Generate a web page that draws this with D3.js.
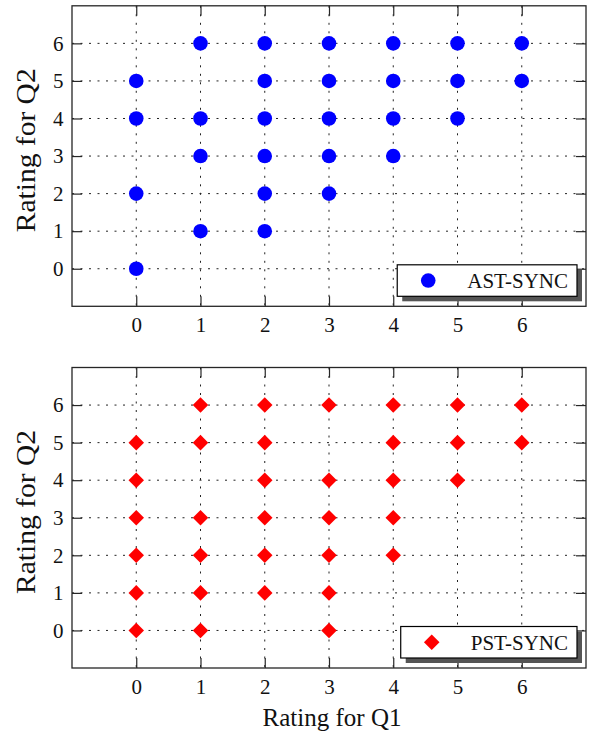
<!DOCTYPE html>
<html>
<head>
<meta charset="utf-8">
<script src="https://cdn.jsdelivr.net/npm/d3@7"></script>
<style>
  body { margin: 0; background: #fff; }
  svg { display: block; font-family: "Liberation Serif", "Times New Roman", serif; }
</style>
</head>
<body>
<div class="chartfield"></div>
<script>
var width = 589;
var height = 731;

// rating ticks on both axes
var ratingTicks = [0, 1, 2, 3, 4, 5, 6];

// AST-SYNC answers (Q1 rating, Q2 rating)
var astQ1 = [0, 0, 0, 0, 1, 1, 1, 1, 2, 2, 2, 2, 2, 2, 3, 3, 3, 3, 3, 4, 4, 4, 4, 5, 5, 5, 6, 6];
var astQ2 = [5, 4, 2, 0, 6, 4, 3, 1, 6, 5, 4, 3, 2, 1, 6, 5, 4, 3, 2, 6, 5, 4, 3, 6, 5, 4, 6, 5];

// PST-SYNC answers
var pstQ1 = [0, 0, 0, 0, 0, 0, 1, 1, 1, 1, 1, 1, 2, 2, 2, 2, 2, 2, 3, 3, 3, 3, 3, 3, 4, 4, 4, 4, 4, 5, 5, 5, 6, 6];
var pstQ2 = [5, 4, 3, 2, 1, 0, 6, 5, 3, 2, 1, 0, 6, 5, 4, 3, 2, 1, 6, 4, 3, 2, 1, 0, 6, 5, 4, 3, 2, 6, 5, 4, 6, 5];

var svg = d3.select(".chartfield")
	.append("svg")
	.attr("width", width)
	.attr("height", height);

var left = 72, right = 586;
var x = d3.scaleLinear().domain([-1, 7]).range([left, right]);

function panel(top, q1, q2, name, shape, colour, showXLabel) {
	var bottom = top + 300.5;
	var y = d3.scaleLinear().domain([-1, 7]).range([bottom, top]);
	var g = svg.append("g");

	// dotted grid
	g.selectAll("line.vgrid").data(ratingTicks).enter().append("line")
		.attr("class", "vgrid")
		.attr("x1", function(d) { return x(d); })
		.attr("x2", function(d) { return x(d); })
		.attr("y1", top).attr("y2", bottom)
		.attr("stroke", "#222").attr("stroke-width", 1)
		.attr("stroke-dasharray", "2,6.5");
	g.selectAll("line.hgrid").data(ratingTicks).enter().append("line")
		.attr("class", "hgrid")
		.attr("y1", function(d) { return y(d); })
		.attr("y2", function(d) { return y(d); })
		.attr("x1", left).attr("x2", right)
		.attr("stroke", "#222").attr("stroke-width", 1)
		.attr("stroke-dasharray", "2,6.5");

	// axes, ticks pointing inward
	var ax = [
		[d3.axisBottom(x), "translate(0," + bottom + ")", true],
		[d3.axisTop(x), "translate(0," + top + ")", false],
		[d3.axisLeft(y), "translate(" + left + ",0)", true],
		[d3.axisRight(y), "translate(" + right + ",0)", false]
	];
	ax.forEach(function(a) {
		var axis = a[0].tickValues(ratingTicks).tickSize(-10);
		if (a[0] === ax[0][0] || a[0] === ax[1][0]) axis.tickPadding(11); else axis.tickPadding(8.5);
		if (!a[2]) axis.tickFormat("");
		var ag = g.append("g").attr("transform", a[1]).call(axis);
		ag.select(".domain").remove();
		ag.selectAll(".tick line").attr("stroke", "#262626").attr("stroke-width", 1.2);
		ag.selectAll(".tick text")
			.attr("font-family", "Liberation Serif, serif")
			.attr("font-size", 21)
			.attr("fill", "#111");
	});

	g.append("rect")
		.attr("x", left).attr("y", top)
		.attr("width", right - left).attr("height", bottom - top)
		.attr("fill", "none").attr("stroke", "#262626").attr("stroke-width", 1.3);

	// markers
	var pts = q1.map(function(v, i) { return { q1: v, q2: q2[i] }; });
	var sym = d3.symbol().type(shape === "circle" ? d3.symbolCircle : d3.symbolSquare)
		.size(shape === "circle" ? Math.PI * 7.3 * 7.3 : 11 * 11);
	g.selectAll("path.pt").data(pts).enter().append("path")
		.attr("class", "pt")
		.attr("d", sym)
		.attr("transform", function(d) {
			return "translate(" + x(d.q1) + "," + y(d.q2) + ")" + (shape === "circle" ? "" : " rotate(45)");
		})
		.attr("fill", colour);

	// legend with drop shadow
	var lg = g.append("g");
	var txt = lg.append("text")
		.attr("x", 568).attr("y", bottom - 10 - 8.5)
		.attr("text-anchor", "end")
		.attr("font-size", 21)
		.attr("fill", "#111")
		.text(name);
	var tw = txt.node().getComputedTextLength();
	var bx = 568 - tw - 70, bw = 577 - bx, by = bottom - 10 - 31.5, bh = 31.5;
	lg.insert("rect", "text")
		.attr("x", bx + 5).attr("y", by + 5).attr("width", bw).attr("height", bh)
		.attr("fill", "#555");
	lg.insert("rect", "text")
		.attr("x", bx).attr("y", by).attr("width", bw).attr("height", bh)
		.attr("fill", "#fff").attr("stroke", "#000").attr("stroke-width", 1.2);
	lg.append("path")
		.attr("d", sym)
		.attr("transform", "translate(" + (bx + 31) + "," + (by + bh / 2) + ")" + (shape === "circle" ? "" : " rotate(45)"))
		.attr("fill", colour);

	// axis labels
	svg.append("text")
		.attr("transform", "translate(35," + (top + 144.5) + ") rotate(-90)")
		.attr("text-anchor", "middle")
		.attr("font-size", 27)
		.attr("textLength", 164)
		.attr("lengthAdjust", "spacingAndGlyphs")
		.attr("fill", "#111")
		.text("Rating for Q2");
	if (showXLabel) {
		svg.append("text")
			.attr("x", 332).attr("y", 726)
			.attr("text-anchor", "middle")
			.attr("font-size", 25)
			.attr("fill", "#111")
			.text("Rating for Q1");
	}
}

panel(5.8, astQ1, astQ2, "AST-SYNC", "circle", "#0000ff", false);
panel(367.5, pstQ1, pstQ2, "PST-SYNC", "diamond", "#ff0000", true);
</script>
</body>
</html>
